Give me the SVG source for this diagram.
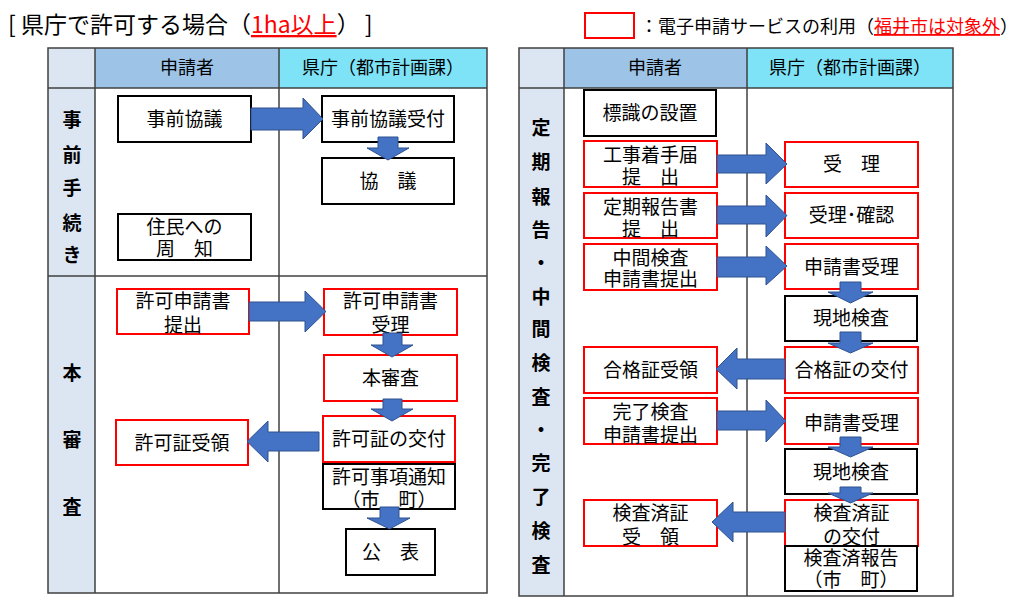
<svg xmlns="http://www.w3.org/2000/svg" width="1024" height="613" viewBox="0 0 1024 613">
<style>
text{font-family:"Noto Sans CJK JP","Noto Sans",sans-serif;fill:#000;}
.t{font-size:19px;text-anchor:middle;}
.h{font-size:18px;text-anchor:middle;}
.v{font-size:19px;text-anchor:middle;font-weight:bold;}
.bk{fill:#fff;stroke:#000;stroke-width:2;}
.rd{fill:#fff;stroke:#ff0000;stroke-width:2;}
.ar{fill:#4472c4;stroke:#2f528f;stroke-width:1;}
.ln{stroke:#404040;stroke-width:1.5;fill:none;}
.red{fill:#ff0000;text-decoration:underline;}
</style>
<rect x="0" y="0" width="1024" height="613" fill="#fff"/>
<g id="title">
<text x="8" y="33" font-size="23">[ 県庁で許可する場合（<tspan class="red">1ha以上</tspan>） ]</text>
</g>
<g id="legend">
<rect x="585" y="13" width="49" height="25" class="rd"/>
<text x="640" y="33" font-size="18">：電子申請サービスの利用（<tspan class="red">福井市は対象外</tspan>）</text>
</g>
<g id="table-left">
<rect x="48" y="48" width="47" height="545" fill="#dce6f2"/>
<rect x="95" y="48" width="184" height="40" fill="#9dc3e6"/>
<rect x="279" y="48" width="208" height="40" fill="#7fe3f8"/>
<rect x="48" y="48" width="439" height="545" class="ln"/>
<line x1="48" y1="88" x2="487" y2="88" class="ln"/>
<line x1="48" y1="276" x2="487" y2="276" class="ln"/>
<line x1="95" y1="48" x2="95" y2="593" class="ln"/>
<line x1="279" y1="48" x2="279" y2="593" class="ln" stroke="#595959"/>
<text x="187" y="74" class="h">申請者</text>
<text x="383" y="74" class="h">県庁（都市計画課）</text>
<text x="72" y="127" class="v">事</text>
<text x="72" y="162" class="v">前</text>
<text x="72" y="195" class="v">手</text>
<text x="72" y="230" class="v">続</text>
<text x="72" y="262" class="v">き</text>
<text x="72" y="380" class="v">本</text>
<text x="72" y="447" class="v">審</text>
<text x="72" y="514" class="v">査</text>
</g>
<g id="table-right">
<rect x="519" y="48" width="45" height="548" fill="#dce6f2"/>
<rect x="564" y="48" width="183" height="40" fill="#9dc3e6"/>
<rect x="747" y="48" width="206" height="40" fill="#7fe3f8"/>
<rect x="519" y="48" width="434" height="548" class="ln"/>
<line x1="519" y1="88" x2="953" y2="88" class="ln"/>
<line x1="564" y1="48" x2="564" y2="596" class="ln"/>
<line x1="747" y1="48" x2="747" y2="596" class="ln" stroke="#595959"/>
<text x="655" y="74" class="h">申請者</text>
<text x="850" y="74" class="h">県庁（都市計画課）</text>
<text x="541" y="135" class="v">定</text>
<text x="541" y="169" class="v">期</text>
<text x="541" y="204" class="v">報</text>
<text x="541" y="237" class="v">告</text>
<text x="541" y="270" class="v">・</text>
<text x="541" y="304" class="v">中</text>
<text x="541" y="336" class="v">間</text>
<text x="541" y="370" class="v">検</text>
<text x="541" y="404" class="v">査</text>
<text x="541" y="437" class="v">・</text>
<text x="541" y="470" class="v">完</text>
<text x="541" y="504" class="v">了</text>
<text x="541" y="538" class="v">検</text>
<text x="541" y="572" class="v">査</text>
</g>
<g id="n-jizenkyogi"><rect x="118" y="96" width="133" height="46" class="bk"/><text x="184.5" y="126" class="t">事前協議</text></g>
<g id="n-jizenkyogi-uketsuke"><rect x="322" y="96" width="132" height="46" class="bk"/><text x="388" y="126" class="t">事前協議受付</text></g>
<g id="n-kyogi"><rect x="322" y="158" width="132" height="46" class="bk"/><text x="388" y="188" class="t">協　議</text></g>
<g id="n-jumin"><rect x="118" y="214" width="133" height="46" class="bk"/><text x="184.5" y="234" class="t">住民への</text><text x="184.5" y="256" class="t">周　知</text></g>
<g id="n-kyoka-teishutsu"><rect x="117" y="289" width="132" height="45" class="rd"/><text x="183" y="308" class="t">許可申請書</text><text x="183" y="332" class="t">提出</text></g>
<g id="n-kyoka-juri"><rect x="324" y="289" width="133" height="46" class="rd"/><text x="390.5" y="308" class="t">許可申請書</text><text x="390.5" y="332" class="t">受理</text></g>
<g id="n-honshinsa"><rect x="324" y="355" width="133" height="46" class="rd"/><text x="390.5" y="385" class="t">本審査</text></g>
<g id="n-kyokasho-kofu"><rect x="323" y="416" width="132" height="46" class="rd"/><text x="389" y="446" class="t">許可証の交付</text></g>
<g id="n-kyokasho-juryo"><rect x="116" y="420" width="132" height="45" class="rd"/><text x="182" y="450" class="t">許可証受領</text></g>
<g id="n-tsuchi"><rect x="323" y="464" width="132" height="45" class="bk"/><text x="389" y="484" class="t">許可事項通知</text><text x="389" y="507" class="t">（市　町）</text></g>
<g id="n-kohyo"><rect x="346" y="529" width="89" height="46" class="bk"/><text x="390.5" y="559" class="t">公　表</text></g>
<g id="n-hyoshiki"><rect x="584" y="90" width="132" height="46" class="bk"/><text x="650" y="120" class="t">標識の設置</text></g>
<g id="n-chakushu"><rect x="584" y="141" width="133" height="46" class="rd"/><text x="650.5" y="162" class="t">工事着手届</text><text x="650.5" y="184" class="t">提　出</text></g>
<g id="n-juri1"><rect x="785" y="142" width="133" height="45" class="rd"/><text x="851.5" y="171" class="t">受　理</text></g>
<g id="n-teiki"><rect x="584" y="193" width="133" height="45" class="rd"/><text x="650.5" y="214" class="t">定期報告書</text><text x="650.5" y="236" class="t">提　出</text></g>
<g id="n-juri-kakunin"><rect x="785" y="193" width="133" height="45" class="rd"/><text x="851.5" y="222" class="t">受理･確認</text></g>
<g id="n-chukan"><rect x="584" y="244" width="133" height="46" class="rd"/><text x="650.5" y="265" class="t">中間検査</text><text x="650.5" y="286" class="t">申請書提出</text></g>
<g id="n-juri2"><rect x="785" y="244" width="133" height="45" class="rd"/><text x="851.5" y="274" class="t">申請書受理</text></g>
<g id="n-genchi1"><rect x="785" y="296" width="132" height="45" class="bk"/><text x="851" y="325" class="t">現地検査</text></g>
<g id="n-gokaku-kofu"><rect x="785" y="347" width="133" height="46" class="rd"/><text x="851.5" y="377" class="t">合格証の交付</text></g>
<g id="n-gokaku-juryo"><rect x="584" y="347" width="133" height="46" class="rd"/><text x="650.5" y="377" class="t">合格証受領</text></g>
<g id="n-kanryo"><rect x="584" y="398" width="133" height="46" class="rd"/><text x="650.5" y="419" class="t">完了検査</text><text x="650.5" y="442" class="t">申請書提出</text></g>
<g id="n-juri3"><rect x="785" y="398" width="133" height="46" class="rd"/><text x="851.5" y="430" class="t">申請書受理</text></g>
<g id="n-genchi2"><rect x="785" y="449" width="132" height="45" class="bk"/><text x="851" y="479" class="t">現地検査</text></g>
<g id="n-kensazumi-kofu"><rect x="785" y="500" width="133" height="46" class="rd"/><text x="851.5" y="520" class="t">検査済証</text><text x="851.5" y="544" class="t">の交付</text></g>
<g id="n-kensazumi-juryo"><rect x="584" y="500" width="133" height="46" class="rd"/><text x="650.5" y="520" class="t">検査済証</text><text x="650.5" y="544" class="t">受　領</text></g>
<g id="n-hokoku"><rect x="785" y="546" width="132" height="45" class="bk"/><text x="851" y="565" class="t">検査済報告</text><text x="851" y="587" class="t">（市　町）</text></g>
<g id="connectors">
<polygon class="ar" points="251,108 303,108 303,98 323,119 303,139 303,130 251,130"/>
<polygon class="ar" points="378,137 398,137 398,148 409,148 388,160 367,148 378,148"/>
<polygon class="ar" points="249,302 305,302 305,291 326,311.5 305,332 305,321 249,321"/>
<polygon class="ar" points="383,333 402,333 402,345 413,345 392,357 371,345 383,345"/>
<polygon class="ar" points="383,399 402,399 402,409 413,409 392,421 371,409 383,409"/>
<polygon class="ar" points="319,432 268,432 268,421 247,441.5 268,462 268,451 319,451"/>
<polygon class="ar" points="380,507 399,507 399,518 410,518 389.5,529 367,518 380,518"/>
<polygon class="ar" points="717,155 766,155 766,143 787,164 766,184 766,173 717,173"/>
<polygon class="ar" points="717,206 766,206 766,195 787,215.5 766,237 766,224 717,224"/>
<polygon class="ar" points="717,257 766,257 766,246 787,266 766,285 766,277 717,277"/>
<polygon class="ar" points="840,282 861,282 861,292 873,292 850.5,303 828,292 840,292"/>
<polygon class="ar" points="840,332 861,332 861,343 873,343 850.5,353 828,343 840,343"/>
<polygon class="ar" points="785,359 737,359 737,348 716,369 737,389 737,379 785,379"/>
<polygon class="ar" points="717,411 766,411 766,400 786,421 766,442 766,430 717,430"/>
<polygon class="ar" points="840,437 861,437 861,447 873,447 850.5,457 828,447 840,447"/>
<polygon class="ar" points="840,487 861,487 861,493 873,493 850.5,503 828,493 840,493"/>
<polygon class="ar" points="785,512 733,512 733,502 712,522 733,542 733,532 785,532"/>
</g>
</svg>
